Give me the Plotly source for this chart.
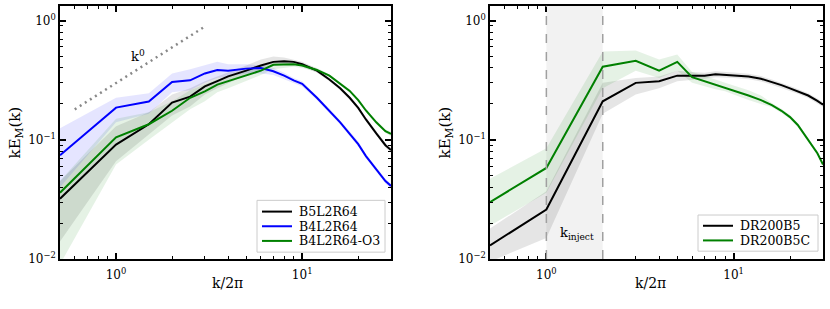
import math
import plotly.graph_objects as go

# ---------------- data ----------------
# left panel
k_left = [0.5, 1, 1.5, 2, 2.5, 3, 3.5, 4, 5, 6, 7, 8, 9, 10, 12, 14, 16, 18, 20, 22, 25, 28, 30]

b5l2r64 = [0.032, 0.091, 0.135, 0.205, 0.23, 0.28, 0.31, 0.34, 0.38, 0.42, 0.45, 0.455, 0.45, 0.43,
           0.38, 0.32, 0.27, 0.225, 0.185, 0.148, 0.113, 0.09, 0.082]
b5l2r64_lo = [0.014, 0.066, 0.11, 0.16, 0.19, 0.24, 0.27, 0.30, 0.35, 0.39, 0.42, 0.43, 0.43, 0.41,
              0.365, 0.31, 0.26, 0.217, 0.178, 0.142, 0.108, 0.086, 0.078]
b5l2r64_hi = [0.045, 0.13, 0.17, 0.24, 0.27, 0.31, 0.34, 0.37, 0.42, 0.47, 0.50, 0.49, 0.47, 0.45,
              0.395, 0.33, 0.28, 0.233, 0.192, 0.154, 0.118, 0.094, 0.086]

b4l2r64 = [0.074, 0.186, 0.209, 0.305, 0.315, 0.36, 0.385, 0.38, 0.395, 0.40, 0.375, 0.345, 0.315, 0.295,
           0.225, 0.175, 0.14, 0.112, 0.092, 0.073, 0.056, 0.045, 0.041]
b4l2r64_lo = [0.04, 0.14, 0.165, 0.25, 0.26, 0.30, 0.33, 0.34, 0.36, 0.36, 0.35, 0.325, 0.30, 0.28,
              0.215, 0.167, 0.134, 0.107, 0.088, 0.07, 0.054, 0.043, 0.039]
b4l2r64_hi = [0.125, 0.225, 0.245, 0.36, 0.39, 0.42, 0.45, 0.43, 0.43, 0.42, 0.40, 0.365, 0.33, 0.31,
              0.235, 0.183, 0.146, 0.117, 0.097, 0.076, 0.059, 0.047, 0.043]

b4l2r64_o3 = [0.036, 0.105, 0.135, 0.175, 0.225, 0.255, 0.29, 0.31, 0.35, 0.38, 0.425, 0.43, 0.43, 0.42,
              0.385, 0.345, 0.295, 0.257, 0.215, 0.176, 0.14, 0.118, 0.112]
b4l2r64_o3_lo = [0.009, 0.062, 0.10, 0.14, 0.18, 0.21, 0.25, 0.27, 0.31, 0.35, 0.39, 0.40, 0.41, 0.40,
                 0.37, 0.335, 0.287, 0.249, 0.208, 0.17, 0.135, 0.114, 0.107]
b4l2r64_o3_hi = [0.045, 0.15, 0.17, 0.21, 0.26, 0.29, 0.32, 0.34, 0.38, 0.42, 0.45, 0.46, 0.45, 0.44,
                 0.40, 0.355, 0.303, 0.265, 0.222, 0.182, 0.145, 0.122, 0.117]

guide_k = [0.6, 3.0]
guide_y = [0.18, 0.89]

# right panel
k_right = [0.5, 1, 2, 3, 4, 5, 6, 7, 8, 9, 10, 12, 14, 16, 18, 20, 22, 25, 28, 30]

dr200b5 = [0.013, 0.026, 0.21, 0.30, 0.31, 0.345, 0.345, 0.345, 0.355, 0.352, 0.348, 0.34, 0.325,
           0.305, 0.287, 0.27, 0.255, 0.235, 0.212, 0.197]
dr200b5_lo = [0.0095, 0.015, 0.165, 0.24, 0.27, 0.31, 0.32, 0.325, 0.335, 0.333, 0.33, 0.322, 0.308,
              0.29, 0.273, 0.257, 0.243, 0.224, 0.202, 0.188]
dr200b5_hi = [0.018, 0.037, 0.30, 0.33, 0.34, 0.38, 0.37, 0.365, 0.375, 0.372, 0.367, 0.358, 0.342,
              0.32, 0.301, 0.283, 0.267, 0.246, 0.222, 0.206]

dr200b5c = [0.030, 0.058, 0.41, 0.46, 0.38, 0.45, 0.335, 0.31, 0.29, 0.275, 0.26, 0.235, 0.215,
            0.195, 0.175, 0.155, 0.133, 0.10, 0.077, 0.062]
dr200b5c_lo = [0.019, 0.036, 0.27, 0.38, 0.33, 0.38, 0.30, 0.28, 0.265, 0.255, 0.24, 0.215, 0.20,
               0.187, 0.168, 0.149, 0.128, 0.096, 0.074, 0.06]
dr200b5c_hi = [0.047, 0.085, 0.55, 0.56, 0.47, 0.52, 0.37, 0.345, 0.32, 0.30, 0.285, 0.26, 0.235,
               0.203, 0.182, 0.161, 0.138, 0.104, 0.08, 0.064]

inject_range = [1, 2]

x_major = [1, 10]
x_major_text = ["10<sup>0</sup>", "10<sup>1</sup>"]
x_minor = [0.5, 0.6, 0.7, 0.8, 0.9, 2, 3, 4, 5, 6, 7, 8, 9, 20, 30]
y_major = [0.01, 0.1, 1]
y_major_text = ["10<sup>\u22122</sup>", "10<sup>\u22121</sup>", "10<sup>0</sup>"]
y_minor = [0.02, 0.03, 0.04, 0.05, 0.06, 0.07, 0.08, 0.09, 0.2, 0.3, 0.4, 0.5, 0.6, 0.7, 0.8, 0.9]

left_names = ["B5L2R64", "B4L2R64", "B4L2R64-O3"]
right_names = ["DR200B5", "DR200B5C"]

# ---------------- figure ----------------
FONT = "DejaVu Serif"
BLACK = "#000000"
BLUE = "#0000ff"
GREEN = "#008000"
W, H = 830, 309

fig = go.Figure()


def px(x):
    return x / W


def py(y):
    return 1 - y / H


def band(k, lo, hi, fill, xa, ya):
    fig.add_trace(go.Scatter(
        x=list(k) + list(k)[::-1], y=list(hi) + list(lo)[::-1],
        fill="toself", fillcolor=fill, line=dict(width=0), mode="lines",
        hoverinfo="skip", showlegend=False, xaxis=xa, yaxis=ya))


def line(k, v, color, name, xa, ya):
    fig.add_trace(go.Scatter(
        x=k, y=v, mode="lines", line=dict(color=color, width=2), name=name,
        xaxis=xa, yaxis=ya, showlegend=False))


# left panel
band(k_left, b5l2r64_lo, b5l2r64_hi, "rgba(0,0,0,0.10)", "x", "y")
band(k_left, b4l2r64_lo, b4l2r64_hi, "rgba(0,0,255,0.10)", "x", "y")
band(k_left, b4l2r64_o3_lo, b4l2r64_o3_hi, "rgba(0,128,0,0.10)", "x", "y")

fig.add_trace(go.Scatter(x=guide_k, y=guide_y, mode="lines",
                         line=dict(color="#888888", width=2.5, dash="2px,4px"),
                         showlegend=False, hoverinfo="skip", xaxis="x", yaxis="y"))

left_series = [b5l2r64, b4l2r64, b4l2r64_o3]
left_colors = [BLACK, BLUE, GREEN]
for vals, col, nm in zip(left_series, left_colors, left_names):
    line(k_left, vals, col, nm, "x", "y")

# right panel
band(k_right, dr200b5_lo, dr200b5_hi, "rgba(0,0,0,0.10)", "x2", "y2")
band(k_right, dr200b5c_lo, dr200b5c_hi, "rgba(0,128,0,0.10)", "x2", "y2")
right_series = [dr200b5, dr200b5c]
right_colors = [BLACK, GREEN]
for vals, col, nm in zip(right_series, right_colors, right_names):
    line(k_right, vals, col, nm, "x2", "y2")

xr = [math.log10(0.5), math.log10(30)]
yr = [-2, 0.123]

common = dict(
    type="log", showline=True, linecolor="black", linewidth=1.5, mirror="ticks",
    ticks="inside", ticklen=6, tickwidth=1.5, tickcolor="black",
    showgrid=False, zeroline=False,
    tickfont=dict(family=FONT, size=12, color="black"),
)

xaxis_cfg = dict(common, range=xr, tickmode="array", tickvals=x_major, ticktext=x_major_text,
                 ticklabelstandoff=4,
                 minor=dict(ticks="inside", ticklen=3, tickwidth=1, tickcolor="black",
                            tickmode="array", tickvals=x_minor, showgrid=False))
yaxis_cfg = dict(common, range=yr, tickmode="array", tickvals=y_major, ticktext=y_major_text,
                 minor=dict(ticks="inside", ticklen=3, tickwidth=1, tickcolor="black",
                            tickmode="array", tickvals=y_minor, showgrid=False))

ydom = [py(265), py(6)]

fig.update_layout(
    width=W, height=H, autosize=False,
    margin=dict(l=0, r=0, t=0, b=0),
    paper_bgcolor="white", plot_bgcolor="white",
    font=dict(family=FONT, size=11, color="black"),
    xaxis=dict(xaxis_cfg, domain=[px(60), px(391)], anchor="y"),
    yaxis=dict(yaxis_cfg, domain=ydom, anchor="x"),
    xaxis2=dict(xaxis_cfg, domain=[px(490), px(823)], anchor="y2"),
    yaxis2=dict(yaxis_cfg, domain=ydom, anchor="x2"),
    showlegend=False,
)

shapes = []
# injection band
shapes.append(dict(type="rect", xref="x2", yref="y2 domain", x0=inject_range[0], x1=inject_range[1],
                   y0=0, y1=1, fillcolor="rgba(0,0,0,0.05)", line=dict(width=0), layer="below"))
for kv in inject_range:
    shapes.append(dict(type="line", xref="x2", yref="y2 domain", x0=kv, x1=kv, y0=0, y1=1,
                       line=dict(color="#a0a0a0", width=1.5, dash="dash"), layer="above"))

annos = [
    dict(text="k<sup>0</sup>", xref="x", yref="y", x=math.log10(1.31), y=math.log10(0.5),
         xanchor="center", yanchor="middle",
         showarrow=False, font=dict(family=FONT, size=13)),
    dict(text="k<sub>inject</sub>", xref="x2", yref="y2", x=math.log10(1.45), y=math.log10(0.0165),
         xanchor="center", yanchor="middle",
         showarrow=False, font=dict(family=FONT, size=13)),
    dict(text="kE<sub>M</sub>(k)", xref="paper", yref="paper", x=px(15), y=py(135.5),
         xanchor="center", yanchor="middle",
         textangle=-90, showarrow=False, font=dict(family=FONT, size=15)),
    dict(text="kE<sub>M</sub>(k)", xref="paper", yref="paper", x=px(445), y=py(135.5),
         xanchor="center", yanchor="middle",
         textangle=-90, showarrow=False, font=dict(family=FONT, size=15)),
    dict(text="k/2\u03c0", xref="paper", yref="paper", x=px(227), y=py(290),
         xanchor="center", yanchor="middle",
         showarrow=False, font=dict(family=FONT, size=14)),
    dict(text="k/2\u03c0", xref="paper", yref="paper", x=px(650), y=py(290),
         xanchor="center", yanchor="middle",
         showarrow=False, font=dict(family=FONT, size=14)),
]


# hand-drawn legends (matplotlib-like compact boxes)
def legend_box(x0, x1, y0, y1, rows, names, colors):
    shapes.append(dict(type="rect", xref="paper", yref="paper",
                       x0=px(x0), x1=px(x1), y0=py(y1), y1=py(y0),
                       fillcolor="rgba(255,255,255,0.85)", line=dict(color="#cccccc", width=1),
                       layer="above"))
    for yy, nm, col in zip(rows, names, colors):
        shapes.append(dict(type="line", xref="paper", yref="paper",
                           x0=px(x0 + 5), x1=px(x0 + 35), y0=py(yy), y1=py(yy),
                           line=dict(color=col, width=2), layer="above"))
        annos.append(dict(text=nm, xref="paper", yref="paper", x=px(x0 + 40), y=py(yy),
                          xanchor="left", yanchor="middle", showarrow=False,
                          font=dict(family=FONT, size=12.5, color="black")))


legend_box(257, 385, 205, 258, [216.5, 231.5, 246.5], left_names, left_colors)
legend_box(698, 818, 220, 257, [231, 246], right_names, right_colors)

fig.update_layout(shapes=shapes, annotations=annos)

fig.write_html("out.html",
               config={"displayModeBar": False, "responsive": False},
               post_script="document.body.style.margin='0';document.body.style.padding='0';"
                           "document.body.style.overflow='hidden';")
